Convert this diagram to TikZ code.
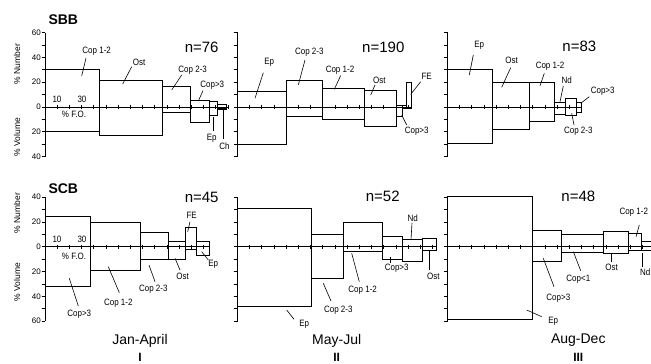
\documentclass[tikz,border=0pt]{standalone}
\usepackage{fontspec}
\setmainfont{Liberation Sans}
\newcommand\sq[1]{\scalebox{1}[1.15]{#1}}
\begin{document}
\begin{tikzpicture}[x=1pt,y=-1pt,
  bx/.style={draw,line width=0.9pt},
  ld/.style={line width=0.6pt},
  axl/.style={line width=1pt},
  tk/.style={line width=0.7pt},
  lab/.style={inner sep=0pt,font=\fontsize{8}{9}\selectfont},
  nlab/.style={inner sep=0pt,font=\fontsize{15}{16}\selectfont},
  ttl/.style={inner sep=0pt,font=\fontsize{14}{15}\selectfont\bfseries},
  mon/.style={inner sep=0pt,font=\fontsize{14}{15}\selectfont},
  rom/.style={inner sep=0pt,anchor=north,font=\fontsize{12}{13}\selectfont\bfseries},
  tnum/.style={inner sep=0pt,anchor=east,font=\fontsize{8}{9}\selectfont},
  ylab/.style={inner sep=0pt,rotate=90,font=\fontsize{8.5}{9}\selectfont}]
\clip (0,0) rectangle (651,364);
\fill[white] (0,0) rectangle (651,364);
\useasboundingbox (0,0) rectangle (651,364);

% ---------- titles and y-axis labels ----------
\node[ttl] (sbb) at (63.3,19.3) {SBB};
\node[ttl] (scb) at (63.3,188.3) {SCB};
\node[ylab] (yn1) at (17,64) {\% Number};
\node[ylab] (yv1) at (17,137) {\% Volume};
\node[ylab] (yn2) at (17,213) {\% Number};
\node[ylab] (yv2) at (17,282) {\% Volume};
\node[tnum] (a60) at (41,32.6) {60};
\node[tnum] (a40) at (41,57.4) {40};
\node[tnum] (a20) at (41,82.2) {20};
\node[tnum] (a0) at (41,107) {0};
\node[tnum] (a20b) at (41,131.8) {20};
\node[tnum] (a40b) at (41,156.6) {40};
\node[tnum] (b40) at (41,197.1) {40};
\node[tnum] (b20) at (41,221.9) {20};
\node[tnum] (b0) at (41,246.7) {0};
\node[tnum] (b20b) at (41,271.5) {20};
\node[tnum] (b40b) at (41,296.3) {40};
\node[tnum] (b60b) at (41,321.1) {60};

% ---------- vertical axes ----------
\foreach \ax in {45,237.3,447.3}{
  \draw[axl] (\ax,32.6) -- (\ax,156.6);
  \draw[axl] (\ax,197.1) -- (\ax,321.1);
  \foreach \k in {0,...,10}{
    \draw[tk] (\ax-3.5,{32.6+12.4*\k}) -- (\ax+0.4,{32.6+12.4*\k});
    \draw[tk] (\ax-3.5,{197.1+12.4*\k}) -- (\ax+0.4,{197.1+12.4*\k});
  }
}

% ---------- boxes, top row ----------
\draw[bx] (45,69) rectangle (99.3,131.7);
\draw[bx] (99.3,80.7) rectangle (162.3,135);
\draw[bx] (162.3,86.7) rectangle (190.7,112.7);
\draw[bx] (190.7,100) rectangle (209.7,122.3);
\draw[bx] (209.7,101.3) rectangle (217.7,115.7);
\draw[bx,line width=1.4pt] (217.7,104.5) rectangle (226.7,108.8);

\draw[bx] (237.3,91) rectangle (286.7,144);
\draw[bx] (286.7,80.7) rectangle (322.7,116.7);
\draw[bx] (322.7,88) rectangle (364,119);
\draw[bx] (364,90.7) rectangle (396,126.7);
\draw[bx] (396,105) rectangle (402,116);
\draw[bx] (402,105.3) rectangle (406,108.7);
\draw[bx] (406,82.7) rectangle (411.7,108.3);

\draw[bx] (447.3,69) rectangle (492.3,143.3);
\draw[bx] (492.3,82.7) rectangle (529.3,129.3);
\draw[bx] (529.3,82.7) rectangle (554.3,121.7);
\draw[bx] (554.3,102) rectangle (565,114);
\draw[bx] (565,98.3) rectangle (576.7,115);
\draw[bx] (576.7,102.7) rectangle (581,112.3);

% ---------- boxes, bottom row ----------
\draw[bx] (45,216.7) rectangle (90.7,286);
\draw[bx] (90.7,222.3) rectangle (140,270);
\draw[bx] (140,232.7) rectangle (168.3,259);
\draw[bx] (168.3,241) rectangle (185,259.3);
\draw[bx] (185,227.3) rectangle (196,249);
\draw[bx] (196,241) rectangle (209.3,255);

\draw[bx] (237.3,208.3) rectangle (311.7,306.7);
\draw[bx] (311.7,234.3) rectangle (343.3,278.3);
\draw[bx] (343.3,222.7) rectangle (382.7,251.7);
\draw[bx] (382.7,236.7) rectangle (402.7,259.3);
\draw[bx] (402.7,239) rectangle (422.7,261);
\draw[bx] (422.7,238.3) rectangle (436.7,250);

\draw[bx] (447.3,196.7) rectangle (532.7,319.3);
\draw[bx] (532.7,230.7) rectangle (561.7,261.7);
\draw[bx] (561.7,234.3) rectangle (603.3,252.7);
\draw[bx] (603.3,231.7) rectangle (628.3,253.3);
\draw[bx] (628.3,233.3) rectangle (641.7,250);
\draw[bx] (641.7,241) rectangle (660,250.7);

% ---------- horizontal axes with F.O. ticks ----------
\foreach \ax/\y/\e/\n in {45/107/228/15, 237.3/107/412/14, 447.3/107/582/11,
                          45/246.7/210/13, 237.3/246.7/437/16, 447.3/246.7/651/16}{
  \draw[axl] (\ax,\y) -- (\e,\y);
  \foreach \k in {1,...,\n}{
    \draw[tk] ({\ax+12.2*\k},\y-2) -- ({\ax+12.2*\k},\y+2);
  }
}
\node[lab] (f10a) at (57,99) {\sq{10}};
\node[lab] (f30a) at (82,99) {\sq{30}};
\node[lab] (foa) at (74,114) {\sq{\% F.O.}};
\node[lab] (f10b) at (57,239.5) {\sq{10}};
\node[lab] (f30b) at (82,239.5) {\sq{30}};
\node[lab] (fob) at (74,256) {\sq{\% F.O.}};

% ---------- n values ----------
\node[nlab] (n76) at (201.7,47.7) {n=76};
\node[nlab] (n190) at (383.3,47.7) {n=190};
\node[nlab] (n83) at (579.3,46.7) {n=83};
\node[nlab] (n45) at (201.7,197.3) {n=45};
\node[nlab] (n52) at (382.7,196.7) {n=52};
\node[nlab] (n48) at (578.3,196.7) {n=48};

% ---------- labels top I ----------
\node[lab] (t1a) at (96.7,51.7) {\sq{Cop 1-2}};
\draw[ld] (86,58) -- (81.7,76);
\node[lab] (t1b) at (139,62) {\sq{Ost}};
\draw[ld] (131.7,66.7) -- (122.7,84);
\node[lab] (t1c) at (192.7,70) {\sq{Cop 2-3}};
\draw[ld] (181.7,75) -- (171.7,90);
\node[lab] (t1d) at (212.3,85) {\sq{Cop>3}};
\draw[ld] (203,90.7) -- (198.3,101);
\node[lab] (t1e) at (211.7,138.3) {\sq{Ep}};
\draw[ld] (213.3,116.7) -- (213.3,131);
\node[lab] (t1f) at (224.5,146.7) {\sq{Ch}};
\draw[ld] (223.3,108.8) -- (223.3,139);

% ---------- labels top II ----------
\node[lab] (t2a) at (269.3,62.7) {\sq{Ep}};
\draw[ld] (263.3,72.7) -- (255,98.3);
\node[lab] (t2b) at (309.3,52.7) {\sq{Cop 2-3}};
\draw[ld] (305,60) -- (298.3,85);
\node[lab] (t2c) at (340,70) {\sq{Cop 1-2}};
\draw[ld] (340.7,75.5) -- (334.3,89.3);
\node[lab] (t2d) at (379.3,80) {\sq{Ost}};
\draw[ld] (375,85) -- (370.7,95);
\node[lab] (t2e) at (426.7,76) {\sq{FE}};
\draw[ld] (420.7,81.7) -- (410.7,94.3);
\node[lab] (t2f) at (416.7,131) {\sq{Cop>3}};
\draw[ld] (406.7,125) -- (401.7,115);

% ---------- labels top III ----------
\node[lab] (t3a) at (479.3,45) {\sq{Ep}};
\draw[ld] (473.3,55) -- (469.3,75);
\node[lab] (t3b) at (511.7,60) {\sq{Ost}};
\draw[ld] (510.7,67.7) -- (501.7,87.3);
\node[lab] (t3c) at (550,66.7) {\sq{Cop 1-2}};
\draw[ld] (544.3,73.3) -- (540,85.7);
\node[lab] (t3d) at (566.7,80) {\sq{Nd}};
\draw[ld] (563.3,86) -- (560,101.7);
\node[lab] (t3e) at (602.7,91.7) {\sq{Cop>3}};
\draw[ld] (589.3,96.7) -- (580.7,103.3);
\node[lab] (t3f) at (578.3,131) {\sq{Cop 2-3}};
\draw[ld] (574,125) -- (571.7,113.3);

% ---------- labels bottom I ----------
\node[lab] (b1a) at (191.7,215) {\sq{FE}};
\draw[ld] (190,221.7) -- (187.7,231.7);
\node[lab] (b1b) at (213.3,264) {\sq{Ep}};
\draw[ld] (208.3,260) -- (201.7,251.7);
\node[lab] (b1c) at (182.7,276) {\sq{Ost}};
\draw[ld] (180,270) -- (175,258.3);
\node[lab] (b1d) at (153.3,289.3) {\sq{Cop 2-3}};
\draw[ld] (155,281.7) -- (149,265);
\node[lab] (b1e) at (118.3,303.3) {\sq{Cop 1-2}};
\draw[ld] (119.3,292.7) -- (108.3,266.7);
\node[lab] (b1f) at (79.3,314) {\sq{Cop>3}};
\draw[ld] (78.3,306) -- (69.3,278.3);

% ---------- labels bottom II ----------
\node[lab] (b2a) at (412.7,218.3) {\sq{Nd}};
\draw[ld] (412,223) -- (411,240);
\node[lab] (b2b) at (396.7,268.3) {\sq{Cop>3}};
\draw[ld] (390.7,263) -- (390.7,257.3);
\node[lab] (b2c) at (433.3,276) {\sq{Ost}};
\draw[ld] (429.3,270) -- (429.3,250);
\node[lab] (b2d) at (362.7,290) {\sq{Cop 1-2}};
\draw[ld] (359.3,281.7) -- (351.7,253.3);
\node[lab] (b2e) at (338.3,310) {\sq{Cop 2-3}};
\draw[ld] (331,301) -- (323.3,283.3);
\node[lab] (b2f) at (304.3,324) {\sq{Ep}};
\draw[ld] (294,319.3) -- (286.7,310);

% ---------- labels bottom III ----------
\node[lab,anchor=west] (b3a) at (619.3,212.7) {\sq{Cop 1-2}};
\draw[ld] (639.3,225) -- (636,236.7);
\node[lab] (b3b) at (611.7,267.3) {\sq{Ost}};
\draw[ld] (611,261.7) -- (611,253.3);
\node[lab] (b3c) at (578.3,279.3) {\sq{Cop<1}};
\draw[ld] (580.7,270.7) -- (573.3,251.7);
\node[lab,anchor=west] (b3d) at (640,272.7) {\sq{Nd}};
\draw[ld] (642.7,266.7) -- (642.7,252.7);
\node[lab] (b3e) at (558.3,298.3) {\sq{Cop>3}};
\draw[ld] (554,286.7) -- (543.3,258.3);
\node[lab] (b3f) at (553.3,321.7) {\sq{Ep}};
\draw[ld] (541.7,316.7) -- (526.7,310);

% ---------- months and roman numerals ----------
\node[mon] (m1) at (140,340.5) {Jan-April};
\node[mon] (m2) at (336.7,340.5) {May-Jul};
\node[mon] (m3) at (578.3,340.5) {Aug-Dec};
\node[rom] (r1) at (140,353.5) {I};
\node[rom] (r2) at (336.7,353.5) {II};
\node[rom] (r3) at (578.3,353.5) {III};
\end{tikzpicture}
\end{document}
